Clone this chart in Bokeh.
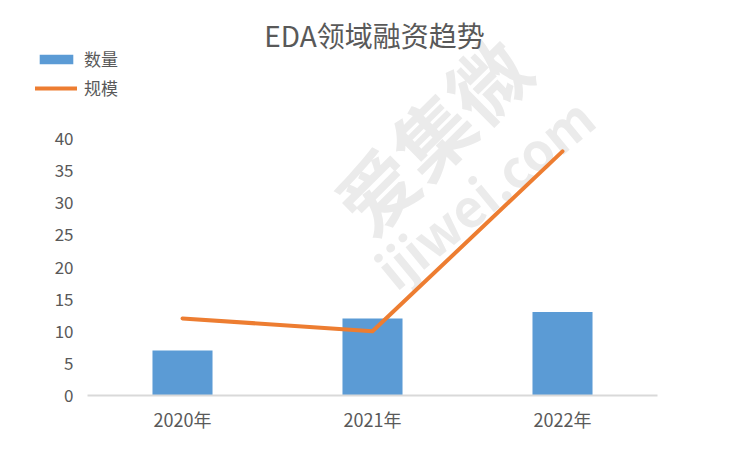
from bokeh.plotting import figure
from bokeh.models import FactorRange, Range1d, Legend, LegendItem, Label, FixedTicker
from bokeh.embed import file_html
from bokeh.resources import INLINE

categories = ["2020年", "2021年", "2022年"]
count_values = [7, 12, 13]
scale_values = [12, 10, 38]
y_ticks = [0, 5, 10, 15, 20, 25, 30, 35, 40]
y_max_label = 40
title_text = "EDA领域融资趋势"
series_names = ["数量", "规模"]
watermark_texts = ["爱集微", "ijiwei.com"]

FONT = "Noto Sans CJK SC"
GREY = "#595959"
BLUE = "#5b9bd5"
ORANGE = "#ed7d31"
WM = "#ebebeb"

W, H = 736, 436
ZERO_Y = 395           # canvas y of the value 0
PLOT_H = 257           # pixel height of the 0..40 value band
px_per_unit = PLOT_H / y_max_label
y_start = -(H - ZERO_Y) / px_per_unit
y_end = ZERO_Y / px_per_unit

p = figure(width=W, height=H,
           x_range=FactorRange(*categories, range_padding=0.3684, range_padding_units="absolute"),
           y_range=Range1d(y_start, y_end),
           output_backend="svg", toolbar_location=None,
           min_border_left=17, min_border_right=9, min_border_top=0, min_border_bottom=0)
p.outline_line_color = None
p.xgrid.grid_line_color = None
p.ygrid.grid_line_color = None

# watermark
p.add_layout(Label(x=413, y=303, x_units="screen", y_units="screen",
                   text=watermark_texts[0], angle=0.78, level="underlay",
                   text_font=FONT, text_font_size="78px", text_font_style="bold",
                   text_color=WM, text_align="center", text_baseline="middle"))
p.add_layout(Label(x=466, y=245, x_units="screen", y_units="screen",
                   text=watermark_texts[1], angle=0.69, level="underlay",
                   text_font=FONT, text_font_size="52px", text_font_style="bold",
                   text_color=WM, text_align="center", text_baseline="middle"))

bars = p.vbar(x=categories, top=count_values, width=0.316, fill_color=BLUE, line_color=None)
line = p.line(x=categories, y=scale_values, line_color=ORANGE, line_width=4,
              line_cap="round", line_join="round")

# y axis drawn at the left edge of the category band
p.yaxis.fixed_location = 0
p.yaxis.ticker = FixedTicker(ticks=y_ticks)
p.yaxis.axis_line_color = None
p.yaxis.major_tick_line_color = None
p.yaxis.minor_tick_line_color = None
p.yaxis.major_label_text_font = FONT
p.yaxis.major_label_text_font_size = "17px"
p.yaxis.major_label_text_color = GREY
p.yaxis.major_label_standoff = 8

# x axis drawn at value 0, only across the category band
p.xaxis.fixed_location = 0
p.xaxis.bounds = (0, len(categories))
p.xaxis.axis_line_color = "#d9d9d9"
p.xaxis.axis_line_width = 2
p.xaxis.major_tick_line_color = None
p.xaxis.minor_tick_line_color = None
p.xaxis.major_label_text_font = FONT
p.xaxis.major_label_text_font_size = "18px"
p.xaxis.major_label_text_color = GREY
p.xaxis.major_label_standoff = 4

p.add_layout(Label(x=357, y=402, x_units="screen", y_units="screen", text=title_text,
                   text_font=FONT, text_font_size="28px", text_color=GREY,
                   text_align="center", text_baseline="middle"))

legend = Legend(items=[LegendItem(label=series_names[0], renderers=[bars]),
                       LegendItem(label=series_names[1], renderers=[line])],
                location=(18, 336), orientation="vertical",
                glyph_width=42, glyph_height=12, label_text_font=FONT,
                label_text_font_size="17px", label_text_color=GREY,
                spacing=4, padding=0, margin=0, label_standoff=7,
                border_line_color=None, background_fill_alpha=0)
p.add_layout(legend)

open("out.html", "w").write(file_html(p, INLINE))
